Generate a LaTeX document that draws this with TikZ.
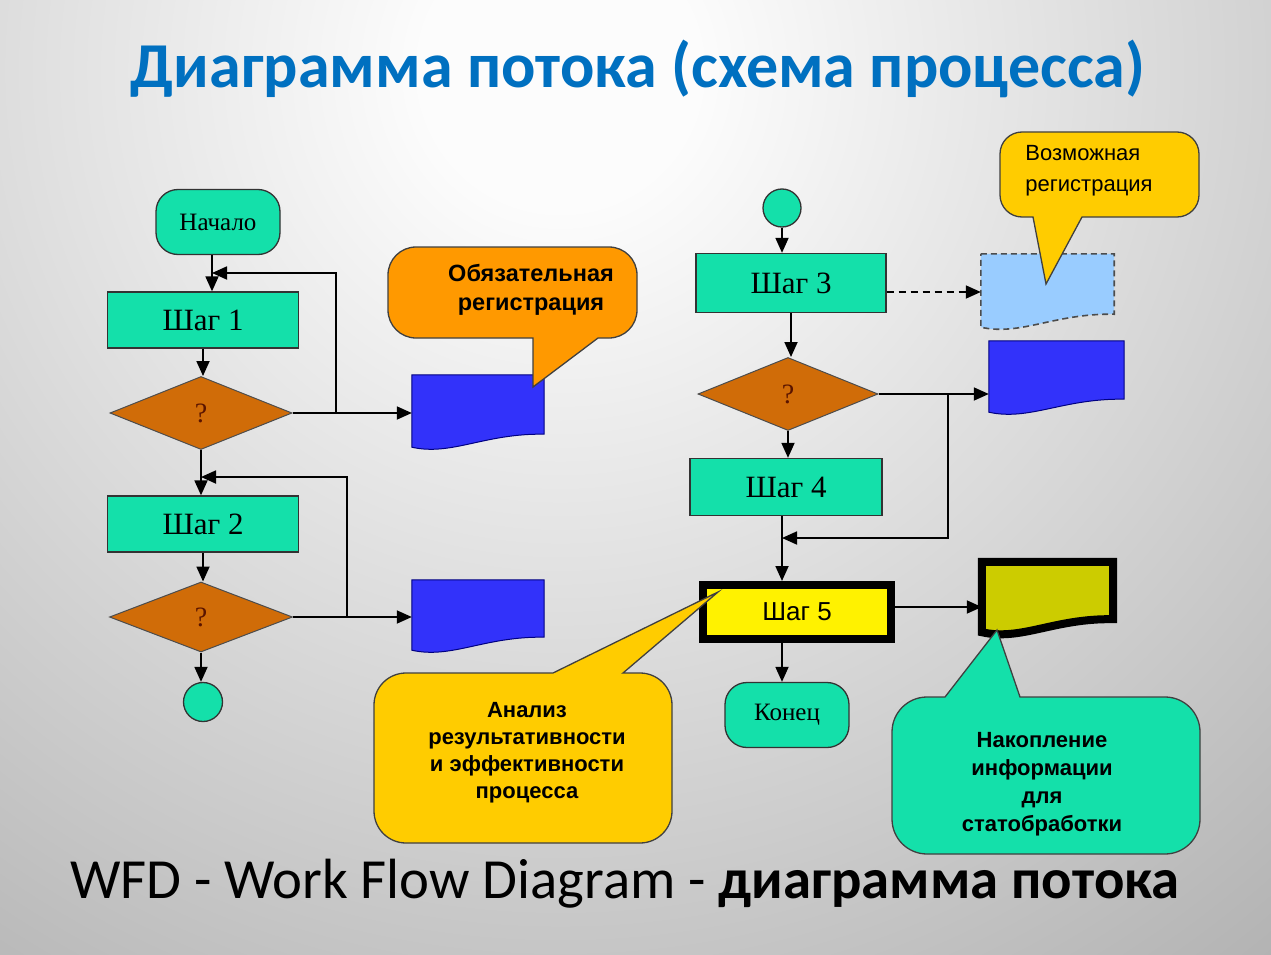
\documentclass[tikz,border=0pt]{standalone}
\usepackage{fontspec}
\setmainfont{Carlito}
\newfontfamily\serfont{Liberation Serif}
\newfontfamily\sanfont{Liberation Sans}
\usetikzlibrary{arrows.meta,shapes.geometric,calc}
\definecolor{teal1}{RGB}{20,224,170}
\definecolor{dorange}{RGB}{208,108,8}
\definecolor{docblue}{RGB}{50,50,250}
\definecolor{ltblue}{RGB}{153,204,255}
\definecolor{calor}{RGB}{255,153,0}
\definecolor{calyel}{RGB}{255,204,0}
\definecolor{olive1}{RGB}{204,204,0}
\definecolor{titleblue}{RGB}{0,112,192}
\definecolor{bgA}{RGB}{252,252,252}
\definecolor{bgB}{RGB}{178,178,178}
\definecolor{bgC}{RGB}{70,70,70}
\definecolor{qcol}{RGB}{90,20,0}
\pgfdeclareradialshading{bgshade}{\pgfpointorigin}{color(0bp)=(bgA); color(3bp)=(bgA); color(25bp)=(bgB); color(50bp)=(bgC)}
\newcommand{\docshape}[2]{\path[#2] (#1.north west) -- (#1.north east) -- ([yshift=13pt]#1.south east) .. controls ($(#1.south east)!0.45!(#1.south west)+(0pt,14pt)$) and ($(#1.south east)!0.7!(#1.south west)+(0pt,-9pt)$) .. (#1.south west) -- cycle;}
\begin{document}
\begin{tikzpicture}[x=1pt,y=-1pt,
  box/.style={rectangle, draw=black!80, line width=1.3pt, fill=teal1, inner sep=0pt, font=\serfont\fontsize{31}{31}\selectfont},
  term/.style={box, rounded corners=22pt, font=\serfont\fontsize{25}{25}\selectfont},
  dec/.style={diamond, draw=black!70, line width=1pt, fill=dorange, inner sep=0pt, text=qcol, font=\serfont\fontsize{28}{28}\selectfont},
  conn/.style={circle, draw=black!80, line width=1.3pt, fill=teal1, minimum size=39pt, inner sep=0pt},
  docn/.style={rectangle, inner sep=0pt},
  arr/.style={line width=1.8pt, -{Triangle[length=15pt,width=13pt]}},
  callout/.style={draw=black!75, line width=1.3pt},
  ctext/.style={align=center, inner sep=0pt, font=\sanfont\bfseries\fontsize{22}{28}\selectfont},
]
\begin{scope}
\clip (0,0) rectangle (1271,955);
\shade[shading=bgshade] (560,70) circle[radius=1150pt];
\end{scope}
\useasboundingbox (0,0) rectangle (1271,955);

\node[anchor=base, inner sep=0pt, text=titleblue, font=\bfseries\fontsize{64}{70}\selectfont] (title) at (638,88) {Диаграмма потока (схема процесса)};
\node[anchor=base west, inner sep=0pt, font=\fontsize{56.7}{60}\selectfont] (foot) at (70,898) {WFD - Work Flow Diagram - \textbf{диаграмма потока}};

% left column
\node[term, minimum width=124pt, minimum height=65pt] (n0) at (218,222) {Начало};
\node[box, minimum width=191pt, minimum height=56pt] (s1) at (203,320) {Шаг 1};
\node[dec, minimum width=182pt, minimum height=73pt] (d1) at (201,413) {?};
\node[docn, minimum width=132pt, minimum height=72pt] (doc1) at (478,411) {};
\node[box, minimum width=191pt, minimum height=56pt] (s2) at (203,524) {Шаг 2};
\node[dec, minimum width=183pt, minimum height=70pt] (d2) at (201,617) {?};
\node[docn, minimum width=132pt, minimum height=70pt] (doc2) at (478,615) {};
\node[conn] (e1) at (203,702) {};

% right column
\node[conn, minimum size=38pt] (e2) at (782,208) {};
\node[box, minimum width=190pt, minimum height=59pt] (s3) at (791,283) {Шаг 3};
\node[docn, minimum width=133pt, minimum height=73pt] (doc3d) at (1047.5,290.5) {};
\node[dec, minimum width=180pt, minimum height=73pt] (d3) at (788,394) {?};
\node[docn, minimum width=135pt, minimum height=71pt] (doc3) at (1056.5,376.5) {};
\node[box, minimum width=192pt, minimum height=57pt] (s4) at (786,487) {Шаг 4};
\node[draw=black, line width=8pt, fill=yellow, minimum width=188pt, minimum height=54pt, inner sep=0pt, font=\sanfont\fontsize{26}{26}\selectfont] (s5) at (797,612) {Шаг 5};
\node[docn, minimum width=131pt, minimum height=70pt] (doc4) at (1047.5,597) {};
\node[term, minimum width=124pt, minimum height=65pt] (k) at (787,715) {Конец};

% documents
\docshape{doc1}{fill=docblue, draw=blue!50!black, line width=1pt}
\docshape{doc2}{fill=docblue, draw=blue!50!black, line width=1pt}
\docshape{doc3}{fill=docblue, draw=blue!50!black, line width=1pt}
\docshape{doc3d}{fill=ltblue, draw=black!70, line width=1.6pt, dash pattern=on 6pt off 4pt}
\docshape{doc4}{fill=olive1, draw=black, line width=8pt}

% connectors left
\coordinate (vA) at (212,0);
\coordinate (L1) at (336,273);
\coordinate (L2) at (347,477);
\draw[arr] (n0.south -| vA) -- (s1.north -| vA);
\draw[arr] (s1.south) -- (s1.south |- d1.north);
\draw[arr] (d1.east) -- (d1.east -| doc1.west);
\draw[arr] (d1.east -| L1) -- (L1) -- (L1 -| vA);
\draw[arr] (d1.south) -- (d1.south |- s2.north);
\draw[arr] (s2.south) -- (s2.south |- d2.north);
\draw[arr] (d2.east) -- (d2.east -| doc2.west);
\draw[arr] (d2.east -| L2) -- (L2) -- (L2 -| d1.south);
\draw[arr] (d2.south) -- (d2.south |- e1.north);

% connectors right
\coordinate (L3) at (948,538);
\draw[arr] (e2.south) -- (e2.south |- s3.north);
\draw[arr, dash pattern=on 7pt off 5pt] ([yshift=-9pt]s3.east) -- ([yshift=-9pt]s3.east -| doc3d.west);
\draw[arr] (s3.south) -- (s3.south |- d3.north);
\draw[arr] (d3.east) -- (d3.east -| doc3.west);
\draw[arr] (d3.south) -- (d3.south |- s4.north);
\draw[arr] (d3.east -| L3) -- (L3) -- (L3 -| e2);
\draw[arr] (s4.south -| e2) -- (s5.north -| e2);
\draw[arr] ([yshift=5pt]s5.east) -- ([yshift=5pt]s5.east -| doc4.west);
\draw[arr] (s5.south -| e2) -- (k.north -| e2);

% callouts
\draw[callout, fill=calor] (533,338) [rounded corners=28pt] -- (388,338) -- (388,247) -- (637,247) -- (637,338) [sharp corners] -- (598,338) -- (533,387) -- cycle;
\draw[callout, fill=calyel] (1033,217) [rounded corners=22pt] -- (1000,217) -- (1000,132) -- (1199,132) -- (1199,217) [sharp corners] -- (1082,217) -- (1046,284) -- cycle;
\draw[callout, fill=calyel] (553,673) [rounded corners=32pt] -- (374,673) -- (374,843) -- (672,843) -- (672,673) [sharp corners] -- (623,673) -- (718,592) -- cycle;
\draw[callout, fill=teal1] (945,697) [rounded corners=35pt] -- (892,697) -- (892,854) -- (1200,854) -- (1200,697) [sharp corners] -- (1020,697) -- (997,630) -- cycle;

\node[ctext, font=\sanfont\bfseries\fontsize{23.5}{29}\selectfont] (t1) at (531,290) {Обязательная\\регистрация};
\node[align=left, inner sep=0pt, font=\sanfont\fontsize{22}{31}\selectfont] (t2) at (1089,171) {Возможная\\регистрация};
\node[ctext, font=\sanfont\bfseries\fontsize{22}{27}\selectfont] (t3) at (527,753) {Анализ\\результативности\\и эффективности\\процесса};
\node[ctext] (t4) at (1042,784) {Накопление\\информации\\для\\статобработки};
\end{tikzpicture}
\end{document}
